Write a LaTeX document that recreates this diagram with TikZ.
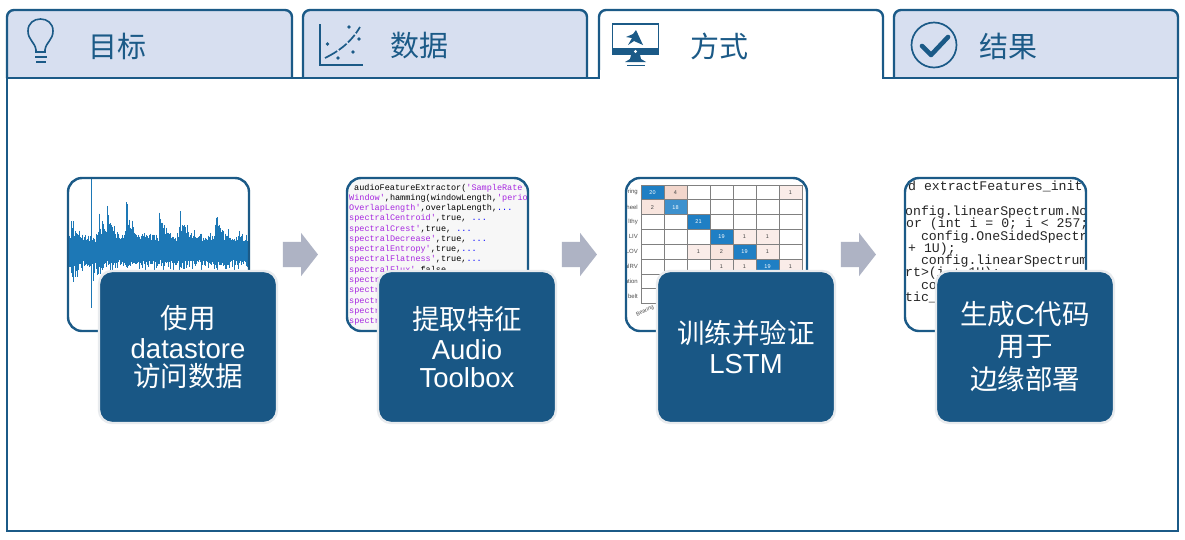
\documentclass[tikz,border=0pt]{standalone}
\usepackage{fontspec}
\setmainfont{Liberation Sans}
\newfontfamily\cjk{Noto Sans CJK SC}
\newfontfamily\codefont{Liberation Mono}
\usetikzlibrary{shapes.arrows}
\definecolor{mwblue}{HTML}{1B5A87}
\definecolor{tabfill}{HTML}{D7DFF0}
\definecolor{cardblue}{HTML}{195785}
\definecolor{cardedge}{HTML}{E8EBEE}
\definecolor{arrowgrey}{HTML}{AEB3C4}
\definecolor{wave}{HTML}{1D78B6}
\definecolor{strpurple}{HTML}{A626E0}
\definecolor{cellA}{HTML}{1F7FC4}
\definecolor{cellB}{HTML}{3D91CE}
\definecolor{cellC}{HTML}{F2D6CC}
\definecolor{cellD}{HTML}{F8E5DE}
\definecolor{cellE}{HTML}{FAECE8}
\definecolor{numdark}{HTML}{444444}
\tikzset{
  tabline/.style={draw=mwblue,line width=2.4pt,rounded corners=7pt,line join=round},
  tablabel/.style={text=mwblue,font=\cjk\fontsize{29}{29}\selectfont,inner sep=0pt},
  frame/.style={draw=mwblue,line width=2.4pt,rounded corners=14pt,minimum width=181pt,minimum height=153pt,inner sep=0pt},
  card/.style={draw=cardedge,fill=cardblue,line width=2.4pt,rounded corners=13pt,minimum width=178pt,minimum height=152pt,
    text=white,align=center,inner sep=0pt,font=\fontsize{27.5}{31}\selectfont},
  flow/.style={single arrow,fill=arrowgrey,draw=none,minimum height=35pt,inner xsep=0pt,inner ysep=12.5pt,
    single arrow head extend=9pt,single arrow tip angle=104},
  code2/.style={font=\codefont\fontsize{8.5}{8.5}\selectfont,anchor=base west,inner sep=0pt},
  code4/.style={font=\codefont\fontsize{13.2}{13.2}\selectfont,anchor=base west,inner sep=0pt,text=black!85},
  cellnum/.style={font=\fontsize{5.5}{5.5}\selectfont,inner sep=0pt},
  rowlab/.style={font=\fontsize{6}{6}\selectfont,anchor=east,inner sep=0pt,text=black!70},
  icon/.style={draw=mwblue,line width=1.6pt},
  declare function={pk(\x,\p,\a)=(\x>=\p)*\a*exp(-max(\x-\p,0)/6);}
}
\newcommand{\str}[1]{\textcolor{strpurple}{#1}}
\begin{document}
\begin{tikzpicture}[x=1pt,y=-1pt]
\useasboundingbox (0,0) rectangle (1185,539);
\fill[white] (0,0) rectangle (1185,539);
% main panel
\draw[draw=mwblue,line width=2.4pt,fill=white] (7,78) rectangle (1178,531);
% tabs
\path[tabline,fill=tabfill] (7,78) -- (7,10) -- (292,10) -- (292,78);
\path[tabline,fill=tabfill] (303,78) -- (303,10) -- (587,10) -- (587,78);
\path[tabline,fill=tabfill] (894,78) -- (894,10) -- (1178,10) -- (1178,78);
\path[tabline,fill=white] (599,78) -- (599,10) -- (883,10) -- (883,78);
\fill[white] (600.2,70) rectangle (881.8,79.4);
\draw[mwblue,line width=2.4pt] (5.8,78) -- (600.2,78);
\draw[mwblue,line width=2.4pt] (881.8,78) -- (1179.2,78);
\node[tablabel] (t1) at (117,46) {目标};
\node[tablabel] (t2) at (419,46) {数据};
\node[tablabel] (t3) at (719,46) {方式};
\node[tablabel] (t4) at (1008,46) {结果};
% bulb icon
\draw[icon] (36,50) .. controls (35,42) and (28,40) .. (28,31) .. controls (28,23) and (34,19) .. (40.5,19)
  .. controls (47,19) and (53,23) .. (53,31) .. controls (53,40) and (46,42) .. (45,50) -- (45,52) -- (36,52) -- cycle;
\draw[mwblue,line width=2.8pt] (35,57) -- (47,57);
\draw[mwblue,line width=2.8pt] (36,62) -- (46,62);
% chart icon
\draw[icon,line width=1.4pt] (320,24) -- (320,65) -- (363,65);
\draw[mwblue,line width=1.7pt,dash pattern=on 14pt off 2pt on 10pt off 2pt on 10pt off 2pt] (325,58) .. controls (337,52) and (350,44) .. (360,27);
\foreach \dx/\dy [count=\n] in {327.5/44,338/58,353/52,359/39,349/27}
  \fill[mwblue] (\dx,\dy) circle (1.9pt);
% monitor icon
\draw[mwblue,line width=1.6pt,fill=white] (612.5,24) rectangle (658.5,52);
\fill[mwblue] (612,48) rectangle (659,55);
\fill[white] (635.5,51.5) circle (1.6pt);
\fill[mwblue] (631,55) -- (640,55) -- (641,59) -- (646,62) -- (625,62) -- (630,59) -- cycle;
\fill[mwblue] (627,64.5) rectangle (645,66);
\fill[mwblue] (636,30) -- (643,45) -- (634,41) -- (628,45) -- (632,38) -- (626,37) -- (633,34) -- cycle;
% check icon
\draw[icon,line width=1.7pt] (934,45) circle (22.5pt);
\draw[mwblue,line width=4.6pt,line cap=round,line join=round] (922,46) -- (931,55) -- (948,37);
% waveform
\begin{scope}
\clip[rounded corners=14pt] (68,178) rectangle (249,331);
\fill[white] (68,178) rectangle (249,331);
\pgfmathsetseed{4217}
\foreach \wx in {69,69.6,...,248.5}{
  \pgfmathsetmacro\up{4+rnd*rnd*12+(pk(\wx,71,24)+pk(\wx,99,26)+pk(\wx,107,26)+pk(\wx,126,40)+pk(\wx,159,30)+pk(\wx,179,33)+pk(\wx,215,32))*(.25+rnd*.75)}
  \pgfmathsetmacro\dn{2+rnd*rnd*13+(pk(\wx,71,30)+pk(\wx,91,22)+pk(\wx,126,10)+pk(\wx,179,8)+pk(\wx,215,8))*rnd}
  \draw[wave,line width=.75pt] (\wx,{246-\up}) -- (\wx,{258+\dn});
}
\draw[wave,line width=1pt] (91,178) -- (91,308);
\end{scope}
\node[frame] (f1) at (158.5,254.5) {};
% code frame
\begin{scope}
\clip[rounded corners=14pt] (347,178) rectangle (528,331);
\fill[black!3] (347,178) rectangle (528,331);
\foreach \ly/\lx/\ltxt [count=\n] in {
 187/354/{audioFeatureExtractor(\str{'SampleRate'},fs,...},
 197/349/{\str{Window'},hamming(windowLength,\str{'periodic'}),...},
 207/349/{\str{OverlapLength'},overlapLength,\textcolor{blue}{...}},
 217/349/{\str{spectralCentroid'},true, \textcolor{blue}{...}},
 228/349/{\str{spectralCrest'},true, \textcolor{blue}{...}},
 238/349/{\str{spectralDecrease'},true, \textcolor{blue}{...}},
 248/349/{\str{spectralEntropy'},true,\textcolor{blue}{...}},
 258/349/{\str{spectralFlatness'},true,\textcolor{blue}{...}},
 269/349/{\str{spectralFlux'},false},
 279/349/{\str{spectr}},
 289/349/{\str{spectr}},
 300/349/{\str{spectr}},
 310/349/{\str{spectr}},
 320/349/{\str{spectr}}}
  \node[code2] (cb\n) at (\lx,\ly+3) {\ltxt};
\end{scope}
\node[frame] (f2) at (437.5,254.5) {};
% confusion matrix frame
\begin{scope}
\clip[rounded corners=14pt] (626,178) rectangle (807,331);
\fill[white] (626,178) rectangle (807,331);
\foreach \cc/\rr/\fc/\cn/\tc [count=\n] in {
 1/1/cellA/20/white,2/1/cellC/4/numdark,7/1/cellE/1/numdark,
 1/2/cellD/2/numdark,2/2/cellB/18/white,
 3/3/cellA/21/white,
 4/4/cellA/19/white,5/4/cellE/1/numdark,6/4/cellE/1/numdark,
 3/5/cellE/1/numdark,4/5/cellD/2/numdark,5/5/cellA/19/white,6/5/cellE/1/numdark,
 4/6/cellE/1/numdark,5/6/cellE/1/numdark,6/6/cellA/19/white,7/6/cellE/1/numdark}{
  \fill[\fc] ({641+23*(\cc-1)},{185+14.83*(\rr-1)}) rectangle ++(23,14.83);
  \node[cellnum,text=\tc] (cm\n) at ({652.5+23*(\cc-1)},{192.4+14.83*(\rr-1)}) {\cn};
}
\foreach \gi in {0,...,7}
  \draw[black!50,line width=.7pt] ({641+23*\gi},185) -- ({641+23*\gi},303.6);
\foreach \gi in {0,...,8}
  \draw[black!50,line width=.7pt] (641,{185+14.83*\gi}) -- (802,{185+14.83*\gi});
\foreach \lb [count=\gi] in {ring,heel,lthy,LIV,LOV,alRV,ation,belt}
  \node[rowlab] (rl\gi) at (638,{192.4+14.83*(\gi-1)}) {\lb};
\node[cellnum,rotate=25,text=black!70] (bear) at (645,311) {Bearing};
\end{scope}
\node[frame] (f3) at (716.5,254.5) {};
% C code frame
\begin{scope}
\clip[rounded corners=14pt] (905,178) rectangle (1086,331);
\fill[white] (905,178) rectangle (1086,331);
\foreach \ly/\lx/\ltxt [count=\n] in {
 190/908/{d extractFeatures\_init},
 215/905/{onfig.linearSpectrum.No},
 227/906/{or (int i = 0; i < 257;},
 240/905/{~~config.OneSidedSpectrum},
 252/908/{+ 1U);},
 264/905/{~~config.linearSpectrum},
 276/905/{rt>(i + 1U);},
 289/905/{~~config},
 301/905/{tic\_cast}}
  \node[code4] (cd\n) at (\lx,\ly) {\ltxt};
\end{scope}
\node[frame] (f4) at (995.5,254.5) {};
% cards
\node[card] (c1) at (188,347) {{\cjk 使用}\\[-.5pt]datastore\\[-3pt]{\cjk 访问数据}};
\node[card] (c2) at (467,347) {{\cjk 提取特征}\\[-.5pt]Audio\\[-3pt]Toolbox};
\node[card] (c3) at (746,347) {{\cjk 训练并验证}\\[-1.5pt]LSTM};
\node[card] (c4) at (1025,347) {{\cjk 生成}C{\cjk 代码}\\[1pt]{\cjk 用于}\\[2pt]{\cjk 边缘部署}};
% arrows
\node[flow] (a1) at (295.5,254.5) {};
\node[flow] (a2) at (574.5,254.5) {};
\node[flow] (a3) at (853.5,254.5) {};
\end{tikzpicture}
\end{document}
